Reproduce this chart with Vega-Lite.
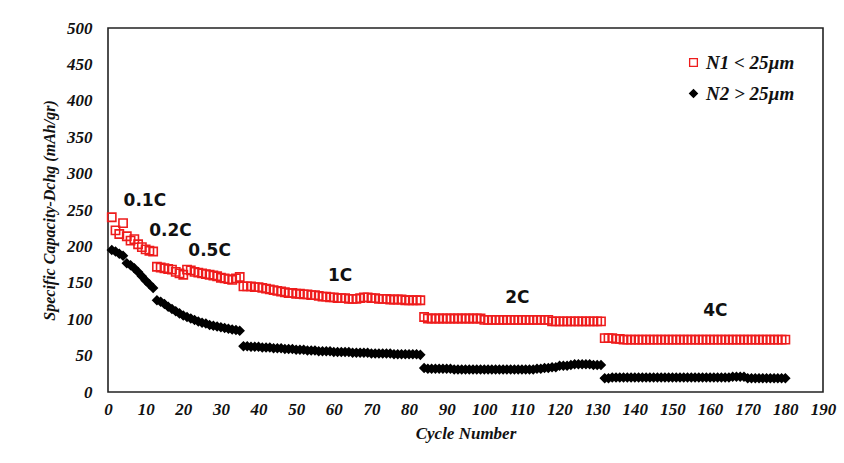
{
  "$schema": "https://vega.github.io/schema/vega-lite/v6.json",
  "width": 715,
  "height": 364,
  "autosize": {"type": "none"},
  "padding": {"left": 108, "top": 28, "right": 21, "bottom": 71},
  "background": "white",
  "config": {
    "view": {"stroke": "#222222", "strokeWidth": 1.6},
    "axis": {
      "domain": false,
      "ticks": false,
      "grid": false,
      "labelOverlap": false,
      "labelBound": false,
      "labelFlush": false,
      "labelFont": "Liberation Serif",
      "labelFontStyle": "italic",
      "labelFontWeight": "bold",
      "labelFontSize": 17,
      "labelColor": "#111111",
      "titleFont": "Liberation Serif",
      "titleFontStyle": "italic",
      "titleFontWeight": "bold",
      "titleColor": "#111111"
    }
  },
  "layer": [
    {
      "data": {
        "values": [
          {"c":1,"n1":240,"n2":195},{"c":2,"n1":222,"n2":193},{"c":3,"n1":217,"n2":190},{"c":4,"n1":232,"n2":187},{"c":5,"n1":214,"n2":177},
          {"c":6,"n1":208,"n2":174},{"c":7,"n1":210,"n2":170},{"c":8,"n1":203,"n2":165},{"c":9,"n1":199,"n2":159},{"c":10,"n1":196,"n2":153},
          {"c":11,"n1":194,"n2":148},{"c":12,"n1":193,"n2":143},{"c":13,"n1":172,"n2":126},{"c":14,"n1":171,"n2":124},{"c":15,"n1":170,"n2":121},
          {"c":16,"n1":169,"n2":117},{"c":17,"n1":168,"n2":114},{"c":18,"n1":165,"n2":111},{"c":19,"n1":163,"n2":108},{"c":20,"n1":161,"n2":105},
          {"c":21,"n1":168,"n2":103},{"c":22,"n1":167,"n2":101},{"c":23,"n1":165,"n2":99},{"c":24,"n1":164,"n2":97},{"c":25,"n1":163,"n2":95},
          {"c":26,"n1":162,"n2":94},{"c":27,"n1":161,"n2":92},{"c":28,"n1":160,"n2":91},{"c":29,"n1":159,"n2":90},{"c":30,"n1":157,"n2":89},
          {"c":31,"n1":156,"n2":88},{"c":32,"n1":155,"n2":87},{"c":33,"n1":154,"n2":86},{"c":34,"n1":156,"n2":85},{"c":35,"n1":158,"n2":84},
          {"c":36,"n1":145,"n2":63},{"c":37,"n1":145,"n2":63},{"c":38,"n1":145,"n2":62},{"c":39,"n1":144,"n2":62},{"c":40,"n1":144,"n2":62},
          {"c":41,"n1":143,"n2":61},{"c":42,"n1":142,"n2":61},{"c":43,"n1":141,"n2":61},{"c":44,"n1":140,"n2":60},{"c":45,"n1":139,"n2":60},
          {"c":46,"n1":138,"n2":60},{"c":47,"n1":137,"n2":59},{"c":48,"n1":136,"n2":59},{"c":49,"n1":136,"n2":59},{"c":50,"n1":135,"n2":58},
          {"c":51,"n1":135,"n2":58},{"c":52,"n1":134,"n2":58},{"c":53,"n1":134,"n2":57},{"c":54,"n1":133,"n2":57},{"c":55,"n1":133,"n2":57},
          {"c":56,"n1":132,"n2":56},{"c":57,"n1":131,"n2":56},{"c":58,"n1":131,"n2":56},{"c":59,"n1":130,"n2":56},{"c":60,"n1":130,"n2":55},
          {"c":61,"n1":129,"n2":55},{"c":62,"n1":129,"n2":55},{"c":63,"n1":129,"n2":55},{"c":64,"n1":128,"n2":55},{"c":65,"n1":128,"n2":54},
          {"c":66,"n1":128,"n2":54},{"c":67,"n1":129,"n2":54},{"c":68,"n1":130,"n2":54},{"c":69,"n1":130,"n2":54},{"c":70,"n1":129,"n2":53},
          {"c":71,"n1":129,"n2":53},{"c":72,"n1":128,"n2":53},{"c":73,"n1":128,"n2":53},{"c":74,"n1":128,"n2":53},{"c":75,"n1":127,"n2":53},
          {"c":76,"n1":127,"n2":52},{"c":77,"n1":127,"n2":52},{"c":78,"n1":127,"n2":52},{"c":79,"n1":126,"n2":52},{"c":80,"n1":126,"n2":52},
          {"c":81,"n1":126,"n2":52},{"c":82,"n1":126,"n2":52},{"c":83,"n1":126,"n2":51},{"c":84,"n1":103,"n2":33},{"c":85,"n1":101,"n2":32},
          {"c":86,"n1":101,"n2":32},{"c":87,"n1":101,"n2":32},{"c":88,"n1":101,"n2":32},{"c":89,"n1":101,"n2":32},{"c":90,"n1":101,"n2":32},
          {"c":91,"n1":101,"n2":32},{"c":92,"n1":101,"n2":31},{"c":93,"n1":101,"n2":31},{"c":94,"n1":101,"n2":31},{"c":95,"n1":101,"n2":31},
          {"c":96,"n1":101,"n2":31},{"c":97,"n1":101,"n2":31},{"c":98,"n1":101,"n2":31},{"c":99,"n1":101,"n2":31},{"c":100,"n1":99,"n2":31},
          {"c":101,"n1":99,"n2":31},{"c":102,"n1":99,"n2":31},{"c":103,"n1":99,"n2":31},{"c":104,"n1":99,"n2":31},{"c":105,"n1":99,"n2":31},
          {"c":106,"n1":99,"n2":31},{"c":107,"n1":99,"n2":31},{"c":108,"n1":99,"n2":31},{"c":109,"n1":99,"n2":31},{"c":110,"n1":99,"n2":31},
          {"c":111,"n1":99,"n2":31},{"c":112,"n1":99,"n2":31},{"c":113,"n1":99,"n2":31},{"c":114,"n1":99,"n2":32},{"c":115,"n1":99,"n2":32},
          {"c":116,"n1":99,"n2":33},{"c":117,"n1":99,"n2":33},{"c":118,"n1":97,"n2":34},{"c":119,"n1":97,"n2":34},{"c":120,"n1":97,"n2":36},
          {"c":121,"n1":97,"n2":36},{"c":122,"n1":97,"n2":36},{"c":123,"n1":97,"n2":37},{"c":124,"n1":97,"n2":38},{"c":125,"n1":97,"n2":38},
          {"c":126,"n1":97,"n2":38},{"c":127,"n1":97,"n2":38},{"c":128,"n1":97,"n2":38},{"c":129,"n1":97,"n2":37},{"c":130,"n1":97,"n2":37},
          {"c":131,"n1":97,"n2":37},{"c":132,"n1":74,"n2":19},{"c":133,"n1":74,"n2":19},{"c":134,"n1":74,"n2":20},{"c":135,"n1":73,"n2":20},
          {"c":136,"n1":73,"n2":20},{"c":137,"n1":72,"n2":20},{"c":138,"n1":72,"n2":20},{"c":139,"n1":72,"n2":20},{"c":140,"n1":72,"n2":20},
          {"c":141,"n1":72,"n2":20},{"c":142,"n1":72,"n2":20},{"c":143,"n1":72,"n2":20},{"c":144,"n1":72,"n2":20},{"c":145,"n1":72,"n2":20},
          {"c":146,"n1":72,"n2":20},{"c":147,"n1":72,"n2":20},{"c":148,"n1":72,"n2":20},{"c":149,"n1":72,"n2":20},{"c":150,"n1":72,"n2":20},
          {"c":151,"n1":72,"n2":20},{"c":152,"n1":72,"n2":20},{"c":153,"n1":72,"n2":20},{"c":154,"n1":72,"n2":20},{"c":155,"n1":72,"n2":20},
          {"c":156,"n1":72,"n2":20},{"c":157,"n1":72,"n2":20},{"c":158,"n1":72,"n2":20},{"c":159,"n1":72,"n2":20},{"c":160,"n1":72,"n2":20},
          {"c":161,"n1":72,"n2":20},{"c":162,"n1":72,"n2":20},{"c":163,"n1":72,"n2":20},{"c":164,"n1":72,"n2":20},{"c":165,"n1":72,"n2":20},
          {"c":166,"n1":72,"n2":21},{"c":167,"n1":72,"n2":21},{"c":168,"n1":72,"n2":21},{"c":169,"n1":72,"n2":21},{"c":170,"n1":72,"n2":19},
          {"c":171,"n1":72,"n2":19},{"c":172,"n1":72,"n2":19},{"c":173,"n1":72,"n2":19},{"c":174,"n1":72,"n2":19},{"c":175,"n1":72,"n2":19},
          {"c":176,"n1":72,"n2":19},{"c":177,"n1":72,"n2":19},{"c":178,"n1":72,"n2":19},{"c":179,"n1":72,"n2":19},{"c":180,"n1":72,"n2":19}
        ]
      },
      "transform": [{"fold": ["n1", "n2"], "as": ["s", "v"]}],
      "mark": {"type": "point", "filled": true, "size": 68, "strokeWidth": 1.6, "opacity": 1},
      "encoding": {
        "x": {
          "field": "c", "type": "quantitative", "title": "Cycle Number",
          "scale": {"domain": [0, 190], "nice": false, "zero": false},
          "axis": {"values": [0,10,20,30,40,50,60,70,80,90,100,110,120,130,140,150,160,170,180,190], "labelOverlap": false, "tickCount": 20, "labelPadding": 9, "titleFontSize": 17, "titlePadding": 8}
        },
        "y": {
          "field": "v", "type": "quantitative", "title": "Specific Capacity-Dchg (mAh/gr)",
          "scale": {"domain": [0, 500], "nice": false},
          "axis": {"values": [0,50,100,150,200,250,300,350,400,450,500], "labelOverlap": false, "tickCount": 11, "labelPadding": 16, "titleFontSize": 16, "titlePadding": 9}
        },
        "shape": {
          "field": "s", "type": "nominal",
          "scale": {"domain": ["n1", "n2"], "range": ["square", "diamond"]},
          "legend": {"orient": "none", "legendX": 576, "legendY": 25, "title": null, "padding": 0, "rowPadding": 11, "labelOffset": 3, "symbolSize": 60, "symbolStrokeWidth": 1.3, "labelFont": "Liberation Serif", "labelFontStyle": "italic", "labelFontWeight": "bold", "labelFontSize": 19, "labelColor": "#111111", "labelExpr": "datum.value == 'n1' ? 'N1 < 25µm' : 'N2 > 25µm'"}
        },
        "fill": {
          "field": "s", "type": "nominal",
          "scale": {"domain": ["n1", "n2"], "range": ["rgba(255,255,255,0)", "#000000"]},
          "legend": {"orient": "none", "legendX": 576, "legendY": 25, "title": null, "padding": 0, "rowPadding": 11, "labelOffset": 3, "symbolSize": 60, "symbolStrokeWidth": 1.3, "labelFont": "Liberation Serif", "labelFontStyle": "italic", "labelFontWeight": "bold", "labelFontSize": 19, "labelColor": "#111111", "labelExpr": "datum.value == 'n1' ? 'N1 < 25µm' : 'N2 > 25µm'"}
        },
        "stroke": {
          "field": "s", "type": "nominal",
          "scale": {"domain": ["n1", "n2"], "range": ["#ee1c1c", "#000000"]},
          "legend": {"orient": "none", "legendX": 576, "legendY": 25, "title": null, "padding": 0, "rowPadding": 11, "labelOffset": 3, "symbolSize": 60, "symbolStrokeWidth": 1.3, "labelFont": "Liberation Serif", "labelFontStyle": "italic", "labelFontWeight": "bold", "labelFontSize": 19, "labelColor": "#111111", "labelExpr": "datum.value == 'n1' ? 'N1 < 25µm' : 'N2 > 25µm'"}
        }
      }
    },
    {
      "data": {
        "values": [
          {"t": "0.1C", "c": 9.8, "v": 262},
          {"t": "0.2C", "c": 16.6, "v": 221},
          {"t": "0.5C", "c": 27.0, "v": 194},
          {"t": "1C", "c": 61.7, "v": 159},
          {"t": "2C", "c": 108.8, "v": 129.5},
          {"t": "4C", "c": 161.4, "v": 110.6}
        ]
      },
      "mark": {"type": "text", "font": "DejaVu Sans", "fontWeight": "bold", "fontSize": 17, "align": "center", "baseline": "middle", "color": "#111111"},
      "encoding": {
        "x": {"field": "c", "type": "quantitative", "title": "Cycle Number", "axis": {"values": [0,10,20,30,40,50,60,70,80,90,100,110,120,130,140,150,160,170,180,190], "labelOverlap": false}},
        "y": {"field": "v", "type": "quantitative", "title": "Specific Capacity-Dchg (mAh/gr)", "axis": {"values": [0,50,100,150,200,250,300,350,400,450,500], "labelOverlap": false}},
        "text": {"field": "t", "type": "nominal"}
      }
    }
  ]
}
